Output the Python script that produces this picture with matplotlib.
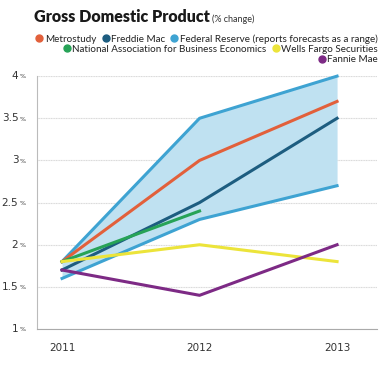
import numpy as np
import matplotlib
matplotlib.use("Agg")
import matplotlib.pyplot as plt
from matplotlib.lines import Line2D

# Data (GDP forecasts, % change)
years = [2011, 2012, 2013]
metrostudy = [1.8, 3.0, 3.7]
freddie_mac = [1.7, 2.5, 3.5]
fed_high = [1.8, 3.5, 4.0]
fed_low = [1.6, 2.3, 2.7]
nabe_years = [2011, 2012]
nabe = [1.8, 2.4]
wells_fargo = [1.8, 2.0, 1.8]
fannie_mae = [1.7, 1.4, 2.0]
y_ticks = [1, 1.5, 2, 2.5, 3, 3.5, 4]
y_tick_labels = ["1", "1.5", "2", "2.5", "3", "3.5", "4"]

c_orange = "#e2603b"
c_dark = "#1d5d80"
c_fed = "#3ea3d2"
c_fill = "#bfe1f1"
c_green = "#27a357"
c_yellow = "#ece43a"
c_purple = "#7d2a85"

plt.rcParams["font.family"] = ["Lato", "DejaVu Sans"]

fig = plt.figure(figsize=(3.84, 3.66), dpi=100)
ax = fig.add_axes([0.0964, 0.101, 0.8856, 0.691])

# Federal Reserve range
ax.fill_between(years, fed_low, fed_high, color=c_fill, lw=0, zorder=1)
ax.plot(years, fed_high, color=c_fed, lw=2.2, zorder=3, clip_on=False)
ax.plot(years, fed_low, color=c_fed, lw=2.2, zorder=3, clip_on=False)

ax.plot(years, metrostudy, color=c_orange, lw=2.2, zorder=4, clip_on=False)
ax.plot(years, freddie_mac, color=c_dark, lw=2.2, zorder=4, clip_on=False)
ax.plot(nabe_years, nabe, color=c_green, lw=2.2, zorder=4, clip_on=False)
ax.plot(years, wells_fargo, color=c_yellow, lw=2.2, zorder=4, clip_on=False)
ax.plot(years, fannie_mae, color=c_purple, lw=2.2, zorder=5, clip_on=False)

ax.set_xlim(2010.818, 2013.291)
ax.set_ylim(1, 4)
ax.set_xticks(years)
ax.set_xticklabels([str(y) for y in years], fontsize=7.5, color="#333333",
                   family="DejaVu Sans")
ax.tick_params(axis="x", length=0, pad=10)

# y ticks: number plus small % sign
ax.set_yticks(y_ticks)
ax.set_yticklabels([])
ax.tick_params(axis="y", length=0)
for v, lab in zip(y_ticks, y_tick_labels):
    ax.text(-0.055, v, lab, transform=ax.get_yaxis_transform(), ha="right",
            va="center", fontsize=7.5, color="#333333", family="DejaVu Sans")
    ax.text(-0.052, v - 0.01, "%", transform=ax.get_yaxis_transform(), ha="left",
            va="center", fontsize=4.5, color="#333333", family="DejaVu Sans")

ax.grid(axis="y", color="#d9d9d9", lw=0.8, linestyle=(0, (1, 0.5)))
ax.set_axisbelow(True)
for s in ["top", "right"]:
    ax.spines[s].set_visible(False)
ax.spines["left"].set_color("#bbbbbb")
ax.spines["bottom"].set_color("#aaaaaa")
ax.spines["left"].set_linewidth(0.8)
ax.spines["bottom"].set_linewidth(0.8)

# Title
t = fig.text(0.089, 0.953, "Gross Domestic Product", fontsize=11.5,
             fontweight="heavy", color="#1a1a1a", va="center")
fig.canvas.draw()
bb = t.get_window_extent()
fig.text(bb.x1 / fig.bbox.width + 0.006, 0.948, "(% change)", fontsize=6.5,
         color="#333333", va="center")

# Legend rows, right aligned
rows = [
    [("Metrostudy", c_orange), ("Freddie Mac", c_dark),
     ("Federal Reserve (reports forecasts as a range)", c_fed)],
    [("National Association for Business Economics", c_green),
     ("Wells Fargo Securities", c_yellow)],
    [("Fannie Mae", c_purple)],
]
row_y = [0.893, 0.865, 0.837]
for row, yy in zip(rows, row_y):
    handles = [Line2D([], [], marker="o", ls="none", color=c, markersize=5)
               for _, c in row]
    labels = [l for l, _ in row]
    leg = fig.legend(handles, labels, loc="center right",
                     bbox_to_anchor=(0.985, yy), ncol=len(row), frameon=False,
                     fontsize=7.1, handlelength=0.7, handletextpad=0.25,
                     columnspacing=0.55, borderpad=0, borderaxespad=0)
    for txt in leg.get_texts():
        txt.set_color("#222222")

fig.savefig("out.png", dpi=100)
